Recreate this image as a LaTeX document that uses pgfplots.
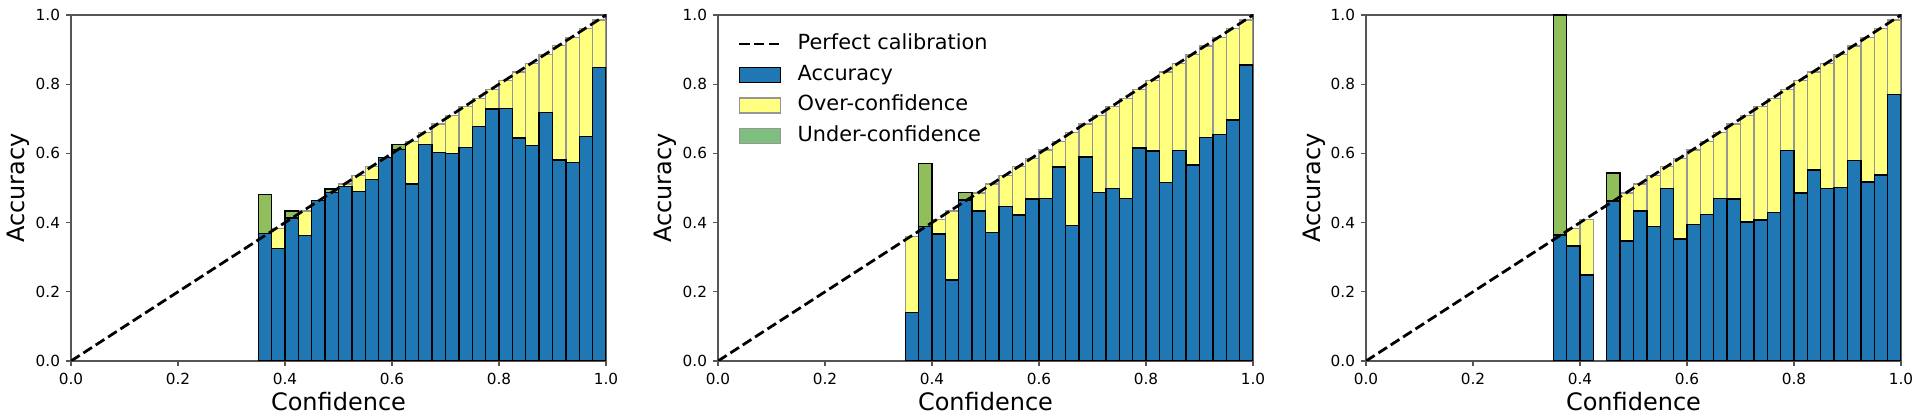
\documentclass[border=0pt]{standalone}
\usepackage{fontspec}
\setmainfont{DejaVu Sans}
\usepackage{pgfplots}
\usepackage{pgfplotstable}
\pgfplotsset{compat=1.18}

\definecolor{accblue}{HTML}{1F77B4}
\definecolor{overyel}{RGB}{255,255,128}
\definecolor{undergrn}{RGB}{143,190,90}
\definecolor{legendgrn}{RGB}{127,191,127}
\definecolor{edgegray}{RGB}{150,150,150}
\definecolor{spine}{RGB}{85,85,85}

% x = bin centre, acc = blue bar, over = top of yellow gap, under = top of green gap
\pgfplotstableread{
x      acc   over  under
0.3625 0.369 nan   0.482
0.3875 0.326 0.383 nan
0.4125 0.413 nan   0.434
0.4375 0.362 0.434 nan
0.4625 0.464 nan   nan
0.4875 0.487 nan   0.497
0.5125 0.505 0.512 nan
0.5375 0.490 0.536 nan
0.5625 0.525 0.562 nan
0.5875 0.588 nan   nan
0.6125 0.611 nan   0.626
0.6375 0.512 0.634 nan
0.6625 0.626 0.660 nan
0.6875 0.602 0.685 nan
0.7125 0.599 0.710 nan
0.7375 0.617 0.735 nan
0.7625 0.677 0.759 nan
0.7875 0.728 0.785 nan
0.8125 0.730 0.810 nan
0.8375 0.645 0.835 nan
0.8625 0.622 0.860 nan
0.8875 0.718 0.885 nan
0.9125 0.581 0.911 nan
0.9375 0.573 0.935 nan
0.9625 0.648 0.961 nan
0.9875 0.849 0.986 nan
}\tableA

\pgfplotstableread{
x      acc   over  under
0.3625 0.141 0.359 nan
0.3875 0.388 nan   0.570
0.4125 0.367 0.409 nan
0.4375 0.234 0.434 nan
0.4625 0.465 nan   0.487
0.4875 0.434 0.485 nan
0.5125 0.371 0.511 nan
0.5375 0.446 0.536 nan
0.5625 0.422 0.562 nan
0.5875 0.468 0.586 nan
0.6125 0.470 0.610 nan
0.6375 0.561 0.634 nan
0.6625 0.392 0.660 nan
0.6875 0.590 0.685 nan
0.7125 0.487 0.709 nan
0.7375 0.499 0.735 nan
0.7625 0.470 0.759 nan
0.7875 0.616 0.785 nan
0.8125 0.607 0.810 nan
0.8375 0.516 0.835 nan
0.8625 0.609 0.860 nan
0.8875 0.566 0.885 nan
0.9125 0.646 0.910 nan
0.9375 0.655 0.935 nan
0.9625 0.697 0.961 nan
0.9875 0.855 0.986 nan
}\tableB

\pgfplotstableread{
x      acc   over  under
0.3625 0.364 nan   1.000
0.3875 0.332 0.383 nan
0.4125 0.249 0.409 nan
0.4625 0.462 nan   0.543
0.4875 0.347 0.485 nan
0.5125 0.434 0.511 nan
0.5375 0.388 0.536 nan
0.5625 0.499 0.562 nan
0.5875 0.353 0.586 nan
0.6125 0.395 0.610 nan
0.6375 0.424 0.634 nan
0.6625 0.470 0.660 nan
0.6875 0.468 0.685 nan
0.7125 0.402 0.710 nan
0.7375 0.408 0.735 nan
0.7625 0.430 0.759 nan
0.7875 0.608 0.785 nan
0.8125 0.485 0.810 nan
0.8375 0.552 0.835 nan
0.8625 0.499 0.860 nan
0.8875 0.502 0.885 nan
0.9125 0.580 0.910 nan
0.9375 0.517 0.935 nan
0.9625 0.538 0.961 nan
0.9875 0.770 0.986 nan
}\tableC

\pgfplotsset{
  reliab/.style={
    scale only axis, width=385.2pt, height=249.12pt,
    xmin=0, xmax=1, ymin=0, ymax=1,
    xtick={0,0.2,0.4,0.6,0.8,1}, ytick={0,0.2,0.4,0.6,0.8,1},
    xtick pos=left, ytick pos=left,
    % ticks drawn outwards by a negative length, so labels are not shifted automatically
    tick align=inside, major tick length=-3.5pt,
    tick style={spine, line width=0.8pt},
    axis line style={spine, line width=0.8pt},
    /pgf/number format/assume math mode=true,
    /pgf/number format/.cd, fixed, fixed zerofill, precision=1, /pgfplots/.cd,
    tick label style={font=\fontsize{11}{13}\selectfont, inner sep=0pt},
    xticklabel style={anchor=north, yshift=-8.9pt},
    yticklabel style={anchor=east, xshift=-7.7pt},
    xlabel={Confidence}, ylabel={Accuracy},
    label style={font=\fontsize{17.28}{20}\selectfont},
    xlabel style={at={(axis description cs:0.5,-0.1433)}, anchor=base},
    ylabel style={at={(axis description cs:-0.0860,0.5)}, anchor=base},
  },
  gapover/.style={ybar, bar width=0.025, bar shift=0pt, fill=overyel, draw=edgegray, line width=1pt, forget plot},
  gapunder/.style={ybar, bar width=0.025, bar shift=0pt, fill=undergrn, draw=black, line width=1pt, forget plot},
  accbar/.style={ybar, bar width=0.025, bar shift=0pt, fill=accblue, draw=black, line width=1pt, forget plot},
  diag/.style={black, line width=2pt, dash pattern=on 7.4pt off 3.2pt},
  barlegend/.style={legend image code/.code={\draw[##1] (0pt,-5.4pt) rectangle (29.5pt,5.4pt);}},
  linelegend/.style={legend image code/.code={\draw[##1] (0pt,0pt) -- (29.5pt,0pt);}},
}

\begin{document}
\begin{tikzpicture}
\useasboundingbox (0,0) rectangle (1382.4pt,302.4pt);

\begin{axis}[reliab, at={(51.12pt,42.48pt)}, anchor=south west]
  \addplot[gapover] table[x=x, y=over] {\tableA};
  \addplot[gapunder] table[x=x, y=under] {\tableA};
  \addplot[accbar] table[x=x, y=acc] {\tableA};
  \addplot[diag, forget plot] coordinates {(0,0) (1,1)};
\end{axis}

\begin{axis}[reliab, at={(516.96pt,42.48pt)}, anchor=south west,
    legend style={at={(axis description cs:0,1)}, anchor=north west,
      xshift=14.2pt, yshift=-13.2pt, draw=none, fill=none,
      font=\fontsize{15}{18}\selectfont, inner sep=0pt, row sep=7.1pt,
      nodes={inner sep=0pt, text height=11.5pt, text depth=3.5pt},
      /tikz/every odd column/.append style={column sep=11.5pt}},
    legend cell align=left]
  \addplot[gapover] table[x=x, y=over] {\tableB};
  \addplot[gapunder] table[x=x, y=under] {\tableB};
  \addplot[accbar] table[x=x, y=acc] {\tableB};
  \addplot[diag, forget plot] coordinates {(0,0) (1,1)};
  \addlegendimage{linelegend, diag}
  \addlegendimage{barlegend, fill=accblue, draw=black, line width=1pt}
  \addlegendimage{barlegend, fill=overyel, draw=edgegray, line width=1pt}
  \addlegendimage{barlegend, fill=legendgrn, draw=edgegray, line width=1pt}
  \legend{Perfect calibration, Accuracy, Over-confidence, Under-confidence}
\end{axis}

\begin{axis}[reliab, at={(983.52pt,42.48pt)}, anchor=south west]
  \addplot[gapover] table[x=x, y=over] {\tableC};
  \addplot[gapunder] table[x=x, y=under] {\tableC};
  \addplot[accbar] table[x=x, y=acc] {\tableC};
  \addplot[diag, forget plot] coordinates {(0,0) (1,1)};
\end{axis}
\end{tikzpicture}
\end{document}
